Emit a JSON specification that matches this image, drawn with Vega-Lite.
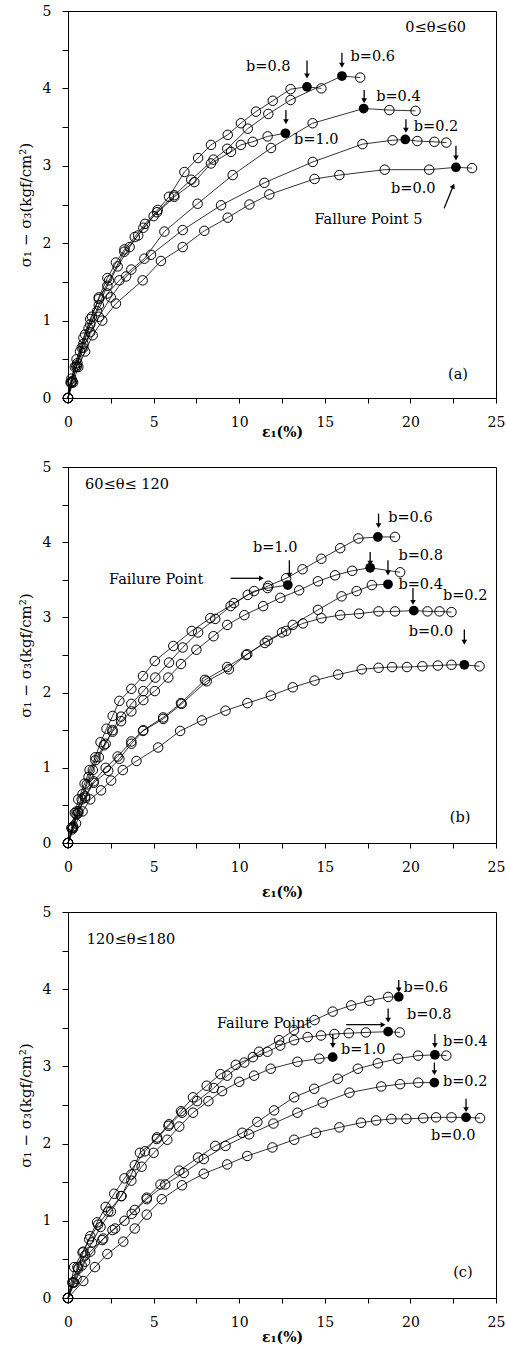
{
  "$schema": "https://vega.github.io/schema/vega-lite/v6.json",
  "padding": {"left": 17, "top": 3, "right": 4, "bottom": 4},
  "background": "white",
  "config": {
    "font": "DejaVu Serif",
    "view": {"stroke": "black", "strokeWidth": 1},
    "axis": {
      "labelFont": "DejaVu Serif", "titleFont": "DejaVu Serif",
      "labelFontSize": 14, "titleFontSize": 14, "titleFontWeight": "normal",
      "labelColor": "black", "titleColor": "black", "domainColor": "black", "tickColor": "black",
      "tickSize": 6, "grid": false, "labelFlush": false, "labelOverlap": false
    }
  },
  "datasets": {
    "curves": [
      {"p":"a","b":"0.0","x":0,"y":0,"f":0},{"p":"a","b":"0.0","x":0.3,"y":0.2,"f":0},{"p":"a","b":"0.0","x":0.6,"y":0.4,"f":0},{"p":"a","b":"0.0","x":1.0,"y":0.6,"f":0},{"p":"a","b":"0.0","x":1.44,"y":0.81,"f":0},{"p":"a","b":"0.0","x":2.0,"y":1.0,"f":0},{"p":"a","b":"0.0","x":2.8,"y":1.22,"f":0},{"p":"a","b":"0.0","x":4.36,"y":1.52,"f":0},{"p":"a","b":"0.0","x":5.43,"y":1.77,"f":0},{"p":"a","b":"0.0","x":6.7,"y":1.95,"f":0},{"p":"a","b":"0.0","x":7.96,"y":2.16,"f":0},{"p":"a","b":"0.0","x":9.33,"y":2.33,"f":0},{"p":"a","b":"0.0","x":10.6,"y":2.5,"f":0},{"p":"a","b":"0.0","x":11.76,"y":2.63,"f":0},{"p":"a","b":"0.0","x":14.4,"y":2.83,"f":0},{"p":"a","b":"0.0","x":15.85,"y":2.88,"f":0},{"p":"a","b":"0.0","x":18.5,"y":2.95,"f":0},{"p":"a","b":"0.0","x":21.1,"y":2.95,"f":0},{"p":"a","b":"0.0","x":22.66,"y":2.98,"f":1},{"p":"a","b":"0.0","x":23.6,"y":2.97,"f":0},
      {"p":"a","b":"0.2","x":0,"y":0,"f":0},{"p":"a","b":"0.2","x":0.2,"y":0.2,"f":0},{"p":"a","b":"0.2","x":0.5,"y":0.4,"f":0},{"p":"a","b":"0.2","x":0.9,"y":0.65,"f":0},{"p":"a","b":"0.2","x":1.3,"y":0.85,"f":0},{"p":"a","b":"0.2","x":1.8,"y":1.05,"f":0},{"p":"a","b":"0.2","x":2.5,"y":1.3,"f":0},{"p":"a","b":"0.2","x":3.39,"y":1.57,"f":0},{"p":"a","b":"0.2","x":4.85,"y":1.85,"f":0},{"p":"a","b":"0.2","x":6.7,"y":2.17,"f":0},{"p":"a","b":"0.2","x":8.94,"y":2.49,"f":0},{"p":"a","b":"0.2","x":11.47,"y":2.78,"f":0},{"p":"a","b":"0.2","x":14.3,"y":3.05,"f":0},{"p":"a","b":"0.2","x":17.2,"y":3.28,"f":0},{"p":"a","b":"0.2","x":18.96,"y":3.33,"f":0},{"p":"a","b":"0.2","x":19.7,"y":3.34,"f":1},{"p":"a","b":"0.2","x":20.4,"y":3.32,"f":0},{"p":"a","b":"0.2","x":21.4,"y":3.31,"f":0},{"p":"a","b":"0.2","x":22.1,"y":3.3,"f":0},
      {"p":"a","b":"0.4","x":0,"y":0,"f":0},{"p":"a","b":"0.4","x":0.2,"y":0.2,"f":0},{"p":"a","b":"0.4","x":0.5,"y":0.42,"f":0},{"p":"a","b":"0.4","x":0.8,"y":0.65,"f":0},{"p":"a","b":"0.4","x":1.2,"y":0.9,"f":0},{"p":"a","b":"0.4","x":1.7,"y":1.12,"f":0},{"p":"a","b":"0.4","x":2.3,"y":1.35,"f":0},{"p":"a","b":"0.4","x":3.0,"y":1.52,"f":0},{"p":"a","b":"0.4","x":3.7,"y":1.66,"f":0},{"p":"a","b":"0.4","x":4.46,"y":1.8,"f":0},{"p":"a","b":"0.4","x":5.63,"y":2.15,"f":0},{"p":"a","b":"0.4","x":7.57,"y":2.51,"f":0},{"p":"a","b":"0.4","x":9.62,"y":2.88,"f":0},{"p":"a","b":"0.4","x":11.86,"y":3.23,"f":0},{"p":"a","b":"0.4","x":14.29,"y":3.55,"f":0},{"p":"a","b":"0.4","x":17.27,"y":3.74,"f":1},{"p":"a","b":"0.4","x":18.77,"y":3.72,"f":0},{"p":"a","b":"0.4","x":20.3,"y":3.71,"f":0},
      {"p":"a","b":"0.6","x":0,"y":0,"f":0},{"p":"a","b":"0.6","x":0.25,"y":0.22,"f":0},{"p":"a","b":"0.6","x":0.55,"y":0.45,"f":0},{"p":"a","b":"0.6","x":0.9,"y":0.7,"f":0},{"p":"a","b":"0.6","x":1.3,"y":0.95,"f":0},{"p":"a","b":"0.6","x":1.8,"y":1.2,"f":0},{"p":"a","b":"0.6","x":2.3,"y":1.45,"f":0},{"p":"a","b":"0.6","x":2.9,"y":1.7,"f":0},{"p":"a","b":"0.6","x":3.6,"y":1.95,"f":0},{"p":"a","b":"0.6","x":4.4,"y":2.2,"f":0},{"p":"a","b":"0.6","x":5.2,"y":2.4,"f":0},{"p":"a","b":"0.6","x":6.2,"y":2.62,"f":0},{"p":"a","b":"0.6","x":7.2,"y":2.82,"f":0},{"p":"a","b":"0.6","x":8.5,"y":3.08,"f":0},{"p":"a","b":"0.6","x":9.3,"y":3.22,"f":0},{"p":"a","b":"0.6","x":10.5,"y":3.48,"f":0},{"p":"a","b":"0.6","x":11.7,"y":3.67,"f":0},{"p":"a","b":"0.6","x":13.0,"y":3.85,"f":0},{"p":"a","b":"0.6","x":16.0,"y":4.16,"f":1},{"p":"a","b":"0.6","x":17.07,"y":4.14,"f":0},
      {"p":"a","b":"0.8","x":0,"y":0,"f":0},{"p":"a","b":"0.8","x":0.15,"y":0.2,"f":0},{"p":"a","b":"0.8","x":0.4,"y":0.4,"f":0},{"p":"a","b":"0.8","x":0.7,"y":0.6,"f":0},{"p":"a","b":"0.8","x":1.0,"y":0.82,"f":0},{"p":"a","b":"0.8","x":1.4,"y":1.05,"f":0},{"p":"a","b":"0.8","x":1.8,"y":1.3,"f":0},{"p":"a","b":"0.8","x":2.3,"y":1.55,"f":0},{"p":"a","b":"0.8","x":2.8,"y":1.75,"f":0},{"p":"a","b":"0.8","x":3.3,"y":1.92,"f":0},{"p":"a","b":"0.8","x":3.9,"y":2.08,"f":0},{"p":"a","b":"0.8","x":4.5,"y":2.25,"f":0},{"p":"a","b":"0.8","x":5.24,"y":2.43,"f":0},{"p":"a","b":"0.8","x":5.9,"y":2.6,"f":0},{"p":"a","b":"0.8","x":6.8,"y":2.92,"f":0},{"p":"a","b":"0.8","x":7.6,"y":3.1,"f":0},{"p":"a","b":"0.8","x":8.35,"y":3.27,"f":0},{"p":"a","b":"0.8","x":9.33,"y":3.4,"f":0},{"p":"a","b":"0.8","x":10.1,"y":3.55,"f":0},{"p":"a","b":"0.8","x":10.98,"y":3.7,"f":0},{"p":"a","b":"0.8","x":11.96,"y":3.84,"f":0},{"p":"a","b":"0.8","x":13.0,"y":3.99,"f":0},{"p":"a","b":"0.8","x":13.96,"y":4.02,"f":1},{"p":"a","b":"0.8","x":14.8,"y":4.0,"f":0},
      {"p":"a","b":"1.0","x":0,"y":0,"f":0},{"p":"a","b":"1.0","x":0.2,"y":0.25,"f":0},{"p":"a","b":"1.0","x":0.5,"y":0.5,"f":0},{"p":"a","b":"1.0","x":0.9,"y":0.78,"f":0},{"p":"a","b":"1.0","x":1.3,"y":1.02,"f":0},{"p":"a","b":"1.0","x":1.8,"y":1.28,"f":0},{"p":"a","b":"1.0","x":2.4,"y":1.52,"f":0},{"p":"a","b":"1.0","x":3.29,"y":1.89,"f":0},{"p":"a","b":"1.0","x":4.1,"y":2.1,"f":0},{"p":"a","b":"1.0","x":5.0,"y":2.35,"f":0},{"p":"a","b":"1.0","x":6.21,"y":2.6,"f":0},{"p":"a","b":"1.0","x":7.38,"y":2.79,"f":0},{"p":"a","b":"1.0","x":8.35,"y":3.03,"f":0},{"p":"a","b":"1.0","x":9.52,"y":3.18,"f":0},{"p":"a","b":"1.0","x":10.1,"y":3.27,"f":0},{"p":"a","b":"1.0","x":10.79,"y":3.31,"f":0},{"p":"a","b":"1.0","x":11.66,"y":3.38,"f":0},{"p":"a","b":"1.0","x":12.7,"y":3.42,"f":1},

      {"p":"b","b":"0.0","x":0,"y":0,"f":0},{"p":"b","b":"0.0","x":0.47,"y":0.26,"f":0},{"p":"b","b":"0.0","x":0.85,"y":0.42,"f":0},{"p":"b","b":"0.0","x":1.3,"y":0.58,"f":0},{"p":"b","b":"0.0","x":1.93,"y":0.7,"f":0},{"p":"b","b":"0.0","x":2.52,"y":0.83,"f":0},{"p":"b","b":"0.0","x":3.2,"y":0.97,"f":0},{"p":"b","b":"0.0","x":4.0,"y":1.09,"f":0},{"p":"b","b":"0.0","x":5.27,"y":1.27,"f":0},{"p":"b","b":"0.0","x":6.55,"y":1.49,"f":0},{"p":"b","b":"0.0","x":7.82,"y":1.63,"f":0},{"p":"b","b":"0.0","x":9.2,"y":1.76,"f":0},{"p":"b","b":"0.0","x":10.48,"y":1.86,"f":0},{"p":"b","b":"0.0","x":11.85,"y":1.96,"f":0},{"p":"b","b":"0.0","x":13.13,"y":2.07,"f":0},{"p":"b","b":"0.0","x":14.4,"y":2.16,"f":0},{"p":"b","b":"0.0","x":15.78,"y":2.24,"f":0},{"p":"b","b":"0.0","x":17.16,"y":2.31,"f":0},{"p":"b","b":"0.0","x":18.14,"y":2.33,"f":0},{"p":"b","b":"0.0","x":18.93,"y":2.34,"f":0},{"p":"b","b":"0.0","x":19.8,"y":2.34,"f":0},{"p":"b","b":"0.0","x":20.7,"y":2.35,"f":0},{"p":"b","b":"0.0","x":21.6,"y":2.36,"f":0},{"p":"b","b":"0.0","x":22.4,"y":2.37,"f":0},{"p":"b","b":"0.0","x":23.15,"y":2.37,"f":1},{"p":"b","b":"0.0","x":24.04,"y":2.35,"f":0},
      {"p":"b","b":"0.2","x":0,"y":0,"f":0},{"p":"b","b":"0.2","x":0.3,"y":0.2,"f":0},{"p":"b","b":"0.2","x":0.6,"y":0.4,"f":0},{"p":"b","b":"0.2","x":1.0,"y":0.6,"f":0},{"p":"b","b":"0.2","x":1.5,"y":0.8,"f":0},{"p":"b","b":"0.2","x":2.35,"y":0.96,"f":0},{"p":"b","b":"0.2","x":3.0,"y":1.12,"f":0},{"p":"b","b":"0.2","x":3.7,"y":1.32,"f":0},{"p":"b","b":"0.2","x":4.38,"y":1.49,"f":0},{"p":"b","b":"0.2","x":5.56,"y":1.65,"f":0},{"p":"b","b":"0.2","x":6.64,"y":1.85,"f":0},{"p":"b","b":"0.2","x":8.1,"y":2.15,"f":0},{"p":"b","b":"0.2","x":9.4,"y":2.31,"f":0},{"p":"b","b":"0.2","x":10.4,"y":2.5,"f":0},{"p":"b","b":"0.2","x":11.5,"y":2.66,"f":0},{"p":"b","b":"0.2","x":12.74,"y":2.82,"f":0},{"p":"b","b":"0.2","x":13.72,"y":2.92,"f":0},{"p":"b","b":"0.2","x":14.8,"y":2.99,"f":0},{"p":"b","b":"0.2","x":15.9,"y":3.03,"f":0},{"p":"b","b":"0.2","x":17.0,"y":3.05,"f":0},{"p":"b","b":"0.2","x":18.14,"y":3.08,"f":0},{"p":"b","b":"0.2","x":19.1,"y":3.08,"f":0},{"p":"b","b":"0.2","x":20.2,"y":3.09,"f":1},{"p":"b","b":"0.2","x":21.0,"y":3.08,"f":0},{"p":"b","b":"0.2","x":21.7,"y":3.08,"f":0},{"p":"b","b":"0.2","x":22.4,"y":3.07,"f":0},
      {"p":"b","b":"0.4","x":0,"y":0,"f":0},{"p":"b","b":"0.4","x":0.3,"y":0.22,"f":0},{"p":"b","b":"0.4","x":0.6,"y":0.42,"f":0},{"p":"b","b":"0.4","x":1.0,"y":0.62,"f":0},{"p":"b","b":"0.4","x":1.5,"y":0.82,"f":0},{"p":"b","b":"0.4","x":2.2,"y":1.0,"f":0},{"p":"b","b":"0.4","x":2.9,"y":1.15,"f":0},{"p":"b","b":"0.4","x":3.7,"y":1.35,"f":0},{"p":"b","b":"0.4","x":4.4,"y":1.5,"f":0},{"p":"b","b":"0.4","x":5.56,"y":1.67,"f":0},{"p":"b","b":"0.4","x":6.6,"y":1.86,"f":0},{"p":"b","b":"0.4","x":8.0,"y":2.17,"f":0},{"p":"b","b":"0.4","x":9.3,"y":2.34,"f":0},{"p":"b","b":"0.4","x":10.47,"y":2.51,"f":0},{"p":"b","b":"0.4","x":11.66,"y":2.69,"f":0},{"p":"b","b":"0.4","x":12.5,"y":2.8,"f":0},{"p":"b","b":"0.4","x":13.13,"y":2.9,"f":0},{"p":"b","b":"0.4","x":14.6,"y":3.1,"f":0},{"p":"b","b":"0.4","x":15.98,"y":3.28,"f":0},{"p":"b","b":"0.4","x":16.86,"y":3.35,"f":0},{"p":"b","b":"0.4","x":17.75,"y":3.43,"f":0},{"p":"b","b":"0.4","x":18.69,"y":3.44,"f":1},
      {"p":"b","b":"0.6","x":0,"y":0,"f":0},{"p":"b","b":"0.6","x":0.25,"y":0.18,"f":0},{"p":"b","b":"0.6","x":0.5,"y":0.38,"f":0},{"p":"b","b":"0.6","x":0.8,"y":0.58,"f":0},{"p":"b","b":"0.6","x":1.1,"y":0.78,"f":0},{"p":"b","b":"0.6","x":1.45,"y":0.97,"f":0},{"p":"b","b":"0.6","x":1.8,"y":1.14,"f":0},{"p":"b","b":"0.6","x":2.2,"y":1.32,"f":0},{"p":"b","b":"0.6","x":2.6,"y":1.5,"f":0},{"p":"b","b":"0.6","x":3.1,"y":1.68,"f":0},{"p":"b","b":"0.6","x":3.7,"y":1.85,"f":0},{"p":"b","b":"0.6","x":4.4,"y":2.02,"f":0},{"p":"b","b":"0.6","x":5.1,"y":2.2,"f":0},{"p":"b","b":"0.6","x":5.9,"y":2.4,"f":0},{"p":"b","b":"0.6","x":6.7,"y":2.6,"f":0},{"p":"b","b":"0.6","x":7.6,"y":2.8,"f":0},{"p":"b","b":"0.6","x":8.6,"y":2.98,"f":0},{"p":"b","b":"0.6","x":9.5,"y":3.15,"f":0},{"p":"b","b":"0.6","x":10.5,"y":3.3,"f":0},{"p":"b","b":"0.6","x":11.7,"y":3.42,"f":0},{"p":"b","b":"0.6","x":12.74,"y":3.52,"f":0},{"p":"b","b":"0.6","x":13.7,"y":3.64,"f":0},{"p":"b","b":"0.6","x":14.8,"y":3.78,"f":0},{"p":"b","b":"0.6","x":15.9,"y":3.92,"f":0},{"p":"b","b":"0.6","x":16.96,"y":4.05,"f":0},{"p":"b","b":"0.6","x":18.1,"y":4.07,"f":1},{"p":"b","b":"0.6","x":19.1,"y":4.07,"f":0},
      {"p":"b","b":"0.8","x":0,"y":0,"f":0},{"p":"b","b":"0.8","x":0.25,"y":0.2,"f":0},{"p":"b","b":"0.8","x":0.5,"y":0.42,"f":0},{"p":"b","b":"0.8","x":0.85,"y":0.65,"f":0},{"p":"b","b":"0.8","x":1.2,"y":0.88,"f":0},{"p":"b","b":"0.8","x":1.6,"y":1.1,"f":0},{"p":"b","b":"0.8","x":2.1,"y":1.3,"f":0},{"p":"b","b":"0.8","x":2.6,"y":1.48,"f":0},{"p":"b","b":"0.8","x":3.1,"y":1.62,"f":0},{"p":"b","b":"0.8","x":3.7,"y":1.75,"f":0},{"p":"b","b":"0.8","x":4.4,"y":1.9,"f":0},{"p":"b","b":"0.8","x":5.07,"y":2.02,"f":0},{"p":"b","b":"0.8","x":5.86,"y":2.2,"f":0},{"p":"b","b":"0.8","x":6.6,"y":2.38,"f":0},{"p":"b","b":"0.8","x":7.5,"y":2.57,"f":0},{"p":"b","b":"0.8","x":8.5,"y":2.75,"f":0},{"p":"b","b":"0.8","x":9.3,"y":2.9,"f":0},{"p":"b","b":"0.8","x":10.3,"y":3.03,"f":0},{"p":"b","b":"0.8","x":11.4,"y":3.15,"f":0},{"p":"b","b":"0.8","x":12.4,"y":3.26,"f":0},{"p":"b","b":"0.8","x":13.5,"y":3.36,"f":0},{"p":"b","b":"0.8","x":14.6,"y":3.48,"f":0},{"p":"b","b":"0.8","x":15.6,"y":3.56,"f":0},{"p":"b","b":"0.8","x":16.6,"y":3.62,"f":0},{"p":"b","b":"0.8","x":17.65,"y":3.66,"f":1},{"p":"b","b":"0.8","x":19.4,"y":3.6,"f":0},
      {"p":"b","b":"1.0","x":0,"y":0,"f":0},{"p":"b","b":"1.0","x":0.2,"y":0.2,"f":0},{"p":"b","b":"1.0","x":0.4,"y":0.4,"f":0},{"p":"b","b":"1.0","x":0.6,"y":0.58,"f":0},{"p":"b","b":"1.0","x":0.97,"y":0.79,"f":0},{"p":"b","b":"1.0","x":1.26,"y":0.97,"f":0},{"p":"b","b":"1.0","x":1.6,"y":1.14,"f":0},{"p":"b","b":"1.0","x":1.9,"y":1.34,"f":0},{"p":"b","b":"1.0","x":2.25,"y":1.52,"f":0},{"p":"b","b":"1.0","x":2.61,"y":1.69,"f":0},{"p":"b","b":"1.0","x":3.0,"y":1.89,"f":0},{"p":"b","b":"1.0","x":3.7,"y":2.05,"f":0},{"p":"b","b":"1.0","x":4.38,"y":2.22,"f":0},{"p":"b","b":"1.0","x":5.07,"y":2.42,"f":0},{"p":"b","b":"1.0","x":6.15,"y":2.62,"f":0},{"p":"b","b":"1.0","x":7.23,"y":2.82,"f":0},{"p":"b","b":"1.0","x":8.31,"y":2.99,"f":0},{"p":"b","b":"1.0","x":9.69,"y":3.19,"f":0},{"p":"b","b":"1.0","x":10.87,"y":3.35,"f":0},{"p":"b","b":"1.0","x":11.66,"y":3.39,"f":0},{"p":"b","b":"1.0","x":12.84,"y":3.43,"f":1},

      {"p":"c","b":"0.0","x":0,"y":0,"f":0},{"p":"c","b":"0.0","x":0.89,"y":0.22,"f":0},{"p":"c","b":"0.0","x":1.57,"y":0.4,"f":0},{"p":"c","b":"0.0","x":2.3,"y":0.57,"f":0},{"p":"c","b":"0.0","x":3.23,"y":0.73,"f":0},{"p":"c","b":"0.0","x":3.9,"y":0.9,"f":0},{"p":"c","b":"0.0","x":4.6,"y":1.08,"f":0},{"p":"c","b":"0.0","x":5.48,"y":1.28,"f":0},{"p":"c","b":"0.0","x":6.66,"y":1.46,"f":0},{"p":"c","b":"0.0","x":7.93,"y":1.61,"f":0},{"p":"c","b":"0.0","x":9.3,"y":1.73,"f":0},{"p":"c","b":"0.0","x":10.47,"y":1.84,"f":0},{"p":"c","b":"0.0","x":11.94,"y":1.95,"f":0},{"p":"c","b":"0.0","x":13.21,"y":2.05,"f":0},{"p":"c","b":"0.0","x":14.48,"y":2.14,"f":0},{"p":"c","b":"0.0","x":15.85,"y":2.21,"f":0},{"p":"c","b":"0.0","x":17.12,"y":2.27,"f":0},{"p":"c","b":"0.0","x":18.0,"y":2.3,"f":0},{"p":"c","b":"0.0","x":18.89,"y":2.32,"f":0},{"p":"c","b":"0.0","x":19.77,"y":2.32,"f":0},{"p":"c","b":"0.0","x":20.75,"y":2.33,"f":0},{"p":"c","b":"0.0","x":21.5,"y":2.34,"f":0},{"p":"c","b":"0.0","x":22.4,"y":2.34,"f":0},{"p":"c","b":"0.0","x":23.25,"y":2.34,"f":1},{"p":"c","b":"0.0","x":24.07,"y":2.33,"f":0},
      {"p":"c","b":"0.2","x":0,"y":0,"f":0},{"p":"c","b":"0.2","x":0.5,"y":0.25,"f":0},{"p":"c","b":"0.2","x":1.0,"y":0.47,"f":0},{"p":"c","b":"0.2","x":2.06,"y":0.77,"f":0},{"p":"c","b":"0.2","x":2.75,"y":0.9,"f":0},{"p":"c","b":"0.2","x":3.72,"y":1.09,"f":0},{"p":"c","b":"0.2","x":4.6,"y":1.28,"f":0},{"p":"c","b":"0.2","x":5.68,"y":1.47,"f":0},{"p":"c","b":"0.2","x":6.76,"y":1.62,"f":0},{"p":"c","b":"0.2","x":7.93,"y":1.8,"f":0},{"p":"c","b":"0.2","x":9.2,"y":1.97,"f":0},{"p":"c","b":"0.2","x":10.58,"y":2.12,"f":0},{"p":"c","b":"0.2","x":12.0,"y":2.26,"f":0},{"p":"c","b":"0.2","x":13.4,"y":2.4,"f":0},{"p":"c","b":"0.2","x":14.88,"y":2.53,"f":0},{"p":"c","b":"0.2","x":16.44,"y":2.66,"f":0},{"p":"c","b":"0.2","x":18.3,"y":2.74,"f":0},{"p":"c","b":"0.2","x":19.4,"y":2.77,"f":0},{"p":"c","b":"0.2","x":20.46,"y":2.79,"f":0},{"p":"c","b":"0.2","x":21.4,"y":2.79,"f":1},
      {"p":"c","b":"0.4","x":0,"y":0,"f":0},{"p":"c","b":"0.4","x":0.35,"y":0.2,"f":0},{"p":"c","b":"0.4","x":0.8,"y":0.42,"f":0},{"p":"c","b":"0.4","x":1.3,"y":0.6,"f":0},{"p":"c","b":"0.4","x":2.0,"y":0.75,"f":0},{"p":"c","b":"0.4","x":2.6,"y":0.88,"f":0},{"p":"c","b":"0.4","x":3.3,"y":1.0,"f":0},{"p":"c","b":"0.4","x":3.9,"y":1.14,"f":0},{"p":"c","b":"0.4","x":4.6,"y":1.3,"f":0},{"p":"c","b":"0.4","x":5.4,"y":1.47,"f":0},{"p":"c","b":"0.4","x":6.5,"y":1.65,"f":0},{"p":"c","b":"0.4","x":7.6,"y":1.82,"f":0},{"p":"c","b":"0.4","x":8.6,"y":1.97,"f":0},{"p":"c","b":"0.4","x":10.18,"y":2.14,"f":0},{"p":"c","b":"0.4","x":11.06,"y":2.28,"f":0},{"p":"c","b":"0.4","x":12.04,"y":2.43,"f":0},{"p":"c","b":"0.4","x":13.21,"y":2.6,"f":0},{"p":"c","b":"0.4","x":14.38,"y":2.71,"f":0},{"p":"c","b":"0.4","x":15.76,"y":2.84,"f":0},{"p":"c","b":"0.4","x":16.93,"y":2.97,"f":0},{"p":"c","b":"0.4","x":18.1,"y":3.04,"f":0},{"p":"c","b":"0.4","x":19.28,"y":3.1,"f":0},{"p":"c","b":"0.4","x":20.45,"y":3.14,"f":0},{"p":"c","b":"0.4","x":21.43,"y":3.15,"f":1},{"p":"c","b":"0.4","x":22.1,"y":3.14,"f":0},
      {"p":"c","b":"0.6","x":0,"y":0,"f":0},{"p":"c","b":"0.6","x":0.36,"y":0.4,"f":0},{"p":"c","b":"0.6","x":0.85,"y":0.59,"f":0},{"p":"c","b":"0.6","x":1.24,"y":0.76,"f":0},{"p":"c","b":"0.6","x":1.76,"y":0.95,"f":0},{"p":"c","b":"0.6","x":2.35,"y":1.12,"f":0},{"p":"c","b":"0.6","x":3.13,"y":1.32,"f":0},{"p":"c","b":"0.6","x":3.7,"y":1.6,"f":0},{"p":"c","b":"0.6","x":4.2,"y":1.88,"f":0},{"p":"c","b":"0.6","x":5.19,"y":2.06,"f":0},{"p":"c","b":"0.6","x":5.87,"y":2.23,"f":0},{"p":"c","b":"0.6","x":6.66,"y":2.4,"f":0},{"p":"c","b":"0.6","x":7.54,"y":2.55,"f":0},{"p":"c","b":"0.6","x":8.52,"y":2.72,"f":0},{"p":"c","b":"0.6","x":9.3,"y":2.88,"f":0},{"p":"c","b":"0.6","x":10.3,"y":3.05,"f":0},{"p":"c","b":"0.6","x":11.16,"y":3.19,"f":0},{"p":"c","b":"0.6","x":12.33,"y":3.34,"f":0},{"p":"c","b":"0.6","x":13.2,"y":3.47,"f":0},{"p":"c","b":"0.6","x":14.4,"y":3.6,"f":0},{"p":"c","b":"0.6","x":15.46,"y":3.71,"f":0},{"p":"c","b":"0.6","x":16.54,"y":3.79,"f":0},{"p":"c","b":"0.6","x":17.6,"y":3.85,"f":0},{"p":"c","b":"0.6","x":18.7,"y":3.9,"f":0},{"p":"c","b":"0.6","x":19.32,"y":3.9,"f":1},
      {"p":"c","b":"0.8","x":0,"y":0,"f":0},{"p":"c","b":"0.8","x":0.25,"y":0.2,"f":0},{"p":"c","b":"0.8","x":0.55,"y":0.4,"f":0},{"p":"c","b":"0.8","x":0.9,"y":0.6,"f":0},{"p":"c","b":"0.8","x":1.3,"y":0.8,"f":0},{"p":"c","b":"0.8","x":1.7,"y":0.98,"f":0},{"p":"c","b":"0.8","x":2.2,"y":1.18,"f":0},{"p":"c","b":"0.8","x":2.7,"y":1.35,"f":0},{"p":"c","b":"0.8","x":3.3,"y":1.55,"f":0},{"p":"c","b":"0.8","x":3.9,"y":1.72,"f":0},{"p":"c","b":"0.8","x":4.5,"y":1.9,"f":0},{"p":"c","b":"0.8","x":5.2,"y":2.08,"f":0},{"p":"c","b":"0.8","x":5.9,"y":2.25,"f":0},{"p":"c","b":"0.8","x":6.6,"y":2.42,"f":0},{"p":"c","b":"0.8","x":7.3,"y":2.6,"f":0},{"p":"c","b":"0.8","x":8.1,"y":2.75,"f":0},{"p":"c","b":"0.8","x":8.9,"y":2.9,"f":0},{"p":"c","b":"0.8","x":9.8,"y":3.02,"f":0},{"p":"c","b":"0.8","x":10.8,"y":3.12,"f":0},{"p":"c","b":"0.8","x":11.65,"y":3.19,"f":0},{"p":"c","b":"0.8","x":12.4,"y":3.27,"f":0},{"p":"c","b":"0.8","x":13.2,"y":3.34,"f":0},{"p":"c","b":"0.8","x":14.0,"y":3.38,"f":0},{"p":"c","b":"0.8","x":14.78,"y":3.4,"f":0},{"p":"c","b":"0.8","x":15.56,"y":3.42,"f":0},{"p":"c","b":"0.8","x":16.4,"y":3.43,"f":0},{"p":"c","b":"0.8","x":17.4,"y":3.44,"f":0},{"p":"c","b":"0.8","x":18.7,"y":3.45,"f":1},{"p":"c","b":"0.8","x":19.38,"y":3.44,"f":0},
      {"p":"c","b":"1.0","x":0,"y":0,"f":0},{"p":"c","b":"1.0","x":0.3,"y":0.2,"f":0},{"p":"c","b":"1.0","x":0.6,"y":0.38,"f":0},{"p":"c","b":"1.0","x":1.0,"y":0.55,"f":0},{"p":"c","b":"1.0","x":1.4,"y":0.72,"f":0},{"p":"c","b":"1.0","x":1.9,"y":0.92,"f":0},{"p":"c","b":"1.0","x":2.5,"y":1.12,"f":0},{"p":"c","b":"1.0","x":3.1,"y":1.32,"f":0},{"p":"c","b":"1.0","x":3.7,"y":1.52,"f":0},{"p":"c","b":"1.0","x":4.3,"y":1.7,"f":0},{"p":"c","b":"1.0","x":5.0,"y":1.88,"f":0},{"p":"c","b":"1.0","x":5.8,"y":2.05,"f":0},{"p":"c","b":"1.0","x":6.5,"y":2.22,"f":0},{"p":"c","b":"1.0","x":7.3,"y":2.4,"f":0},{"p":"c","b":"1.0","x":8.2,"y":2.55,"f":0},{"p":"c","b":"1.0","x":9.0,"y":2.68,"f":0},{"p":"c","b":"1.0","x":10.0,"y":2.8,"f":0},{"p":"c","b":"1.0","x":10.87,"y":2.88,"f":0},{"p":"c","b":"1.0","x":11.84,"y":2.97,"f":0},{"p":"c","b":"1.0","x":13.4,"y":3.06,"f":0},{"p":"c","b":"1.0","x":14.68,"y":3.1,"f":0},{"p":"c","b":"1.0","x":15.46,"y":3.12,"f":1}
    ],
    "labels": [
      {"p":"a","t":"b=0.8","x":10.4,"y":4.28},{"p":"a","t":"b=0.6","x":16.5,"y":4.4},{"p":"a","t":"b=0.4","x":18.0,"y":3.89},{"p":"a","t":"b=0.2","x":20.2,"y":3.5},{"p":"a","t":"b=1.0","x":13.2,"y":3.33},{"p":"a","t":"b=0.0","x":18.87,"y":2.7},{"p":"a","t":"Fallure Point 5","x":14.4,"y":2.3},{"p":"a","t":"0≤θ≤60","x":19.7,"y":4.78},{"p":"a","t":"(a)","x":22.2,"y":0.3},
      {"p":"b","t":"60≤θ≤ 120","x":1.0,"y":4.76},{"p":"b","t":"b=0.6","x":18.7,"y":4.32},{"p":"b","t":"b=1.0","x":10.8,"y":3.92},{"p":"b","t":"b=0.8","x":19.3,"y":3.81},{"p":"b","t":"b=0.4","x":19.3,"y":3.43},{"p":"b","t":"b=0.2","x":21.9,"y":3.28},{"p":"b","t":"b=0.0","x":19.9,"y":2.8},{"p":"b","t":"Failure Point","x":2.4,"y":3.5},{"p":"b","t":"(b)","x":22.3,"y":0.33},
      {"p":"c","t":"120≤θ≤180","x":1.1,"y":4.64},{"p":"c","t":"Failure Point","x":8.7,"y":3.55},{"p":"c","t":"b=0.6","x":19.6,"y":4.02},{"p":"c","t":"b=0.8","x":19.8,"y":3.66},{"p":"c","t":"b=1.0","x":15.95,"y":3.21},{"p":"c","t":"b=0.4","x":21.9,"y":3.32},{"p":"c","t":"b=0.2","x":21.9,"y":2.8},{"p":"c","t":"b=0.0","x":21.2,"y":2.1},{"p":"c","t":"(c)","x":22.5,"y":0.33}
    ],
    "arrows": [
      {"p":"a","x0":13.96,"y0":4.36,"x":13.96,"y":4.16,"s":"triangle-down","ang":0},
      {"p":"a","x0":16.0,"y0":4.46,"x":16.0,"y":4.3,"s":"triangle-down","ang":0},
      {"p":"a","x0":17.3,"y0":3.98,"x":17.3,"y":3.84,"s":"triangle-down","ang":0},
      {"p":"a","x0":12.73,"y0":3.72,"x":12.73,"y":3.57,"s":"triangle-down","ang":0},
      {"p":"a","x0":19.74,"y0":3.6,"x":19.74,"y":3.46,"s":"triangle-down","ang":0},
      {"p":"a","x0":22.66,"y0":3.26,"x":22.66,"y":3.1,"s":"triangle-down","ang":0},
      {"p":"a","x0":21.97,"y0":2.45,"x":22.5,"y":2.74,"s":"triangle-up","ang":25},
      {"p":"b","x0":18.14,"y0":4.38,"x":18.14,"y":4.22,"s":"triangle-down","ang":0},
      {"p":"b","x0":12.93,"y0":3.76,"x":12.93,"y":3.56,"s":"triangle-down","ang":0},
      {"p":"b","x0":17.65,"y0":3.87,"x":17.65,"y":3.72,"s":"triangle-down","ang":0},
      {"p":"b","x0":18.69,"y0":3.76,"x":18.69,"y":3.59,"s":"triangle-down","ang":0},
      {"p":"b","x0":20.15,"y0":3.39,"x":20.15,"y":3.2,"s":"triangle-down","ang":0},
      {"p":"b","x0":23.15,"y0":2.84,"x":23.15,"y":2.67,"s":"triangle-down","ang":0},
      {"p":"b","x0":9.5,"y0":3.52,"x":11.3,"y":3.52,"s":"triangle-right","ang":0},
      {"p":"c","x0":19.32,"y0":4.12,"x":19.32,"y":3.99,"s":"triangle-down","ang":0},
      {"p":"c","x0":18.7,"y0":3.75,"x":18.7,"y":3.6,"s":"triangle-down","ang":0},
      {"p":"c","x0":15.47,"y0":3.42,"x":15.47,"y":3.27,"s":"triangle-down","ang":0},
      {"p":"c","x0":21.43,"y0":3.42,"x":21.43,"y":3.27,"s":"triangle-down","ang":0},
      {"p":"c","x0":21.4,"y0":3.05,"x":21.4,"y":2.92,"s":"triangle-down","ang":0},
      {"p":"c","x0":23.25,"y0":2.58,"x":23.25,"y":2.44,"s":"triangle-down","ang":0},
      {"p":"c","x0":16.25,"y0":3.54,"x":18.4,"y":3.54,"s":"triangle-right","ang":0}
    ]
  },
  "spacing": 69,
  "bounds": "flush",
  "vconcat": [
    {
      "width": 428, "height": 387,
      "encoding": {
        "x": {"field": "x", "type": "quantitative", "scale": {"domain": [0, 25], "nice": false, "zero": false},
              "axis": {"values": [0,2.5,5,7.5,10,12.5,15,17.5,20,22.5,25], "labelExpr": "datum.value % 5 === 0 ? format(datum.value, 'd') : ''", "title": "ε₁(%)", "titleFontWeight": "bold", "labelPadding": 12, "titlePadding": -4, "tickSize": 5}},
        "y": {"field": "y", "type": "quantitative", "scale": {"domain": [0, 5], "nice": false, "zero": false},
              "axis": {"values": [0,0.5,1,1.5,2,2.5,3,3.5,4,4.5,5], "labelExpr": "datum.value % 1 === 0 ? format(datum.value, 'd') : ''", "title": "σ₁ − σ₃(kgf/cm²)", "titleFontSize": 15, "labelPadding": 11, "titlePadding": 9}}
      },
      "layer": [
        {"data": {"name": "curves"}, "transform": [{"filter": "datum.p === 'a'"}], "mark": {"type": "line", "color": "black", "strokeWidth": 0.8}, "encoding": {"detail": {"field": "b"}}},
        {"data": {"name": "curves"}, "transform": [{"filter": "datum.p === 'a' && datum.f === 0"}], "mark": {"type": "point", "shape": "circle", "filled": false, "color": "black", "size": 90, "strokeWidth": 1, "opacity": 1}},
        {"data": {"name": "curves"}, "transform": [{"filter": "datum.p === 'a' && datum.f === 1"}], "mark": {"type": "point", "shape": "circle", "filled": true, "color": "black", "size": 95, "opacity": 1}},
        {"data": {"name": "arrows"}, "transform": [{"filter": "datum.p === 'a'"}], "mark": {"type": "rule", "color": "black", "strokeWidth": 1.3}, "encoding": {"x2": {"field": "x0"}, "y2": {"field": "y0"}}},
        {"data": {"name": "arrows"}, "transform": [{"filter": "datum.p === 'a'"}], "mark": {"type": "point", "filled": true, "color": "black", "size": 32, "opacity": 1}, "encoding": {"shape": {"field": "s", "type": "nominal", "scale": null}, "angle": {"field": "ang", "type": "quantitative", "scale": null}}},
        {"data": {"name": "labels"}, "transform": [{"filter": "datum.p === 'a'"}], "mark": {"type": "text", "align": "left", "baseline": "middle", "font": "DejaVu Serif", "fontSize": 14.5, "color": "black"}, "encoding": {"text": {"field": "t"}}}
      ]
    },
    {
      "width": 428, "height": 376,
      "encoding": {
        "x": {"field": "x", "type": "quantitative", "scale": {"domain": [0, 25], "nice": false, "zero": false},
              "axis": {"values": [0,2.5,5,7.5,10,12.5,15,17.5,20,22.5,25], "labelExpr": "datum.value % 5 === 0 ? format(datum.value, 'd') : ''", "title": "ε₁(%)", "titleFontWeight": "bold", "labelPadding": 12, "titlePadding": 11, "tickSize": 5}},
        "y": {"field": "y", "type": "quantitative", "scale": {"domain": [0, 5], "nice": false, "zero": false},
              "axis": {"values": [0,0.5,1,1.5,2,2.5,3,3.5,4,4.5,5], "labelExpr": "datum.value % 1 === 0 ? format(datum.value, 'd') : ''", "title": "σ₁ − σ₃(kgf/cm²)", "titleFontSize": 15, "labelPadding": 11, "titlePadding": 9}}
      },
      "layer": [
        {"data": {"name": "curves"}, "transform": [{"filter": "datum.p === 'b'"}], "mark": {"type": "line", "color": "black", "strokeWidth": 0.8}, "encoding": {"detail": {"field": "b"}}},
        {"data": {"name": "curves"}, "transform": [{"filter": "datum.p === 'b' && datum.f === 0"}], "mark": {"type": "point", "shape": "circle", "filled": false, "color": "black", "size": 90, "strokeWidth": 1, "opacity": 1}},
        {"data": {"name": "curves"}, "transform": [{"filter": "datum.p === 'b' && datum.f === 1"}], "mark": {"type": "point", "shape": "circle", "filled": true, "color": "black", "size": 95, "opacity": 1}},
        {"data": {"name": "arrows"}, "transform": [{"filter": "datum.p === 'b'"}], "mark": {"type": "rule", "color": "black", "strokeWidth": 1.3}, "encoding": {"x2": {"field": "x0"}, "y2": {"field": "y0"}}},
        {"data": {"name": "arrows"}, "transform": [{"filter": "datum.p === 'b'"}], "mark": {"type": "point", "filled": true, "color": "black", "size": 32, "opacity": 1}, "encoding": {"shape": {"field": "s", "type": "nominal", "scale": null}, "angle": {"field": "ang", "type": "quantitative", "scale": null}}},
        {"data": {"name": "labels"}, "transform": [{"filter": "datum.p === 'b'"}], "mark": {"type": "text", "align": "left", "baseline": "middle", "font": "DejaVu Serif", "fontSize": 14.5, "color": "black"}, "encoding": {"text": {"field": "t"}}}
      ]
    },
    {
      "width": 428, "height": 386,
      "encoding": {
        "x": {"field": "x", "type": "quantitative", "scale": {"domain": [0, 25], "nice": false, "zero": false},
              "axis": {"values": [0,2.5,5,7.5,10,12.5,15,17.5,20,22.5,25], "labelExpr": "datum.value % 5 === 0 ? format(datum.value, 'd') : ''", "title": "ε₁(%)", "titleFontWeight": "bold", "labelPadding": 12, "titlePadding": 1, "tickSize": 5}},
        "y": {"field": "y", "type": "quantitative", "scale": {"domain": [0, 5], "nice": false, "zero": false},
              "axis": {"values": [0,0.5,1,1.5,2,2.5,3,3.5,4,4.5,5], "labelExpr": "datum.value % 1 === 0 ? format(datum.value, 'd') : ''", "title": "σ₁ − σ₃(kgf/cm²)", "titleFontSize": 15, "labelPadding": 11, "titlePadding": 9}}
      },
      "layer": [
        {"data": {"name": "curves"}, "transform": [{"filter": "datum.p === 'c'"}], "mark": {"type": "line", "color": "black", "strokeWidth": 0.8}, "encoding": {"detail": {"field": "b"}}},
        {"data": {"name": "curves"}, "transform": [{"filter": "datum.p === 'c' && datum.f === 0"}], "mark": {"type": "point", "shape": "circle", "filled": false, "color": "black", "size": 90, "strokeWidth": 1, "opacity": 1}},
        {"data": {"name": "curves"}, "transform": [{"filter": "datum.p === 'c' && datum.f === 1"}], "mark": {"type": "point", "shape": "circle", "filled": true, "color": "black", "size": 95, "opacity": 1}},
        {"data": {"name": "arrows"}, "transform": [{"filter": "datum.p === 'c'"}], "mark": {"type": "rule", "color": "black", "strokeWidth": 1.3}, "encoding": {"x2": {"field": "x0"}, "y2": {"field": "y0"}}},
        {"data": {"name": "arrows"}, "transform": [{"filter": "datum.p === 'c'"}], "mark": {"type": "point", "filled": true, "color": "black", "size": 32, "opacity": 1}, "encoding": {"shape": {"field": "s", "type": "nominal", "scale": null}, "angle": {"field": "ang", "type": "quantitative", "scale": null}}},
        {"data": {"name": "labels"}, "transform": [{"filter": "datum.p === 'c'"}], "mark": {"type": "text", "align": "left", "baseline": "middle", "font": "DejaVu Serif", "fontSize": 14.5, "color": "black"}, "encoding": {"text": {"field": "t"}}}
      ]
    }
  ]
}
